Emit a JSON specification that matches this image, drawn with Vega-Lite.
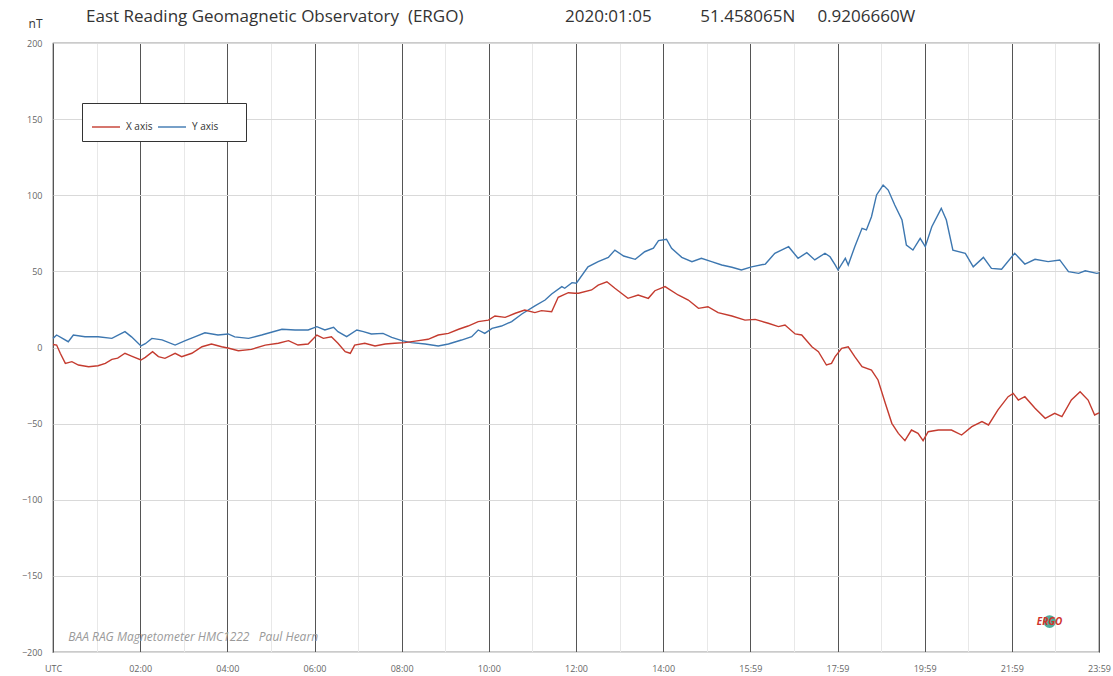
{
  "$schema": "https://vega.github.io/schema/vega-lite/v6.json",
  "width": 1046,
  "height": 609,
  "autosize": {"type": "none"},
  "padding": {"left": 53, "top": 43, "right": 14, "bottom": 24},
  "background": "white",
  "config": {
    "view": {"stroke": "#333333", "strokeWidth": 1.2},
    "font": "Open Sans"
  },
  "title": {
    "text": "East Reading Geomagnetic Observatory\u00a0\u00a0(ERGO)\u00a0\u00a0\u00a0\u00a0\u00a0\u00a0\u00a0\u00a0\u00a0\u00a0\u00a0\u00a0\u00a0\u00a0\u00a0\u00a0\u00a0\u00a0\u00a0\u00a0\u00a0\u00a0\u00a02020:01:05\u00a0\u00a0\u00a0\u00a0\u00a0\u00a0\u00a0\u00a0\u00a0\u00a0\u00a051.458065N\u00a0\u00a0\u00a0\u00a0\u00a00.9206660W",
    "anchor": "start",
    "frame": "group",
    "dx": 33,
    "offset": -9,
    "fontSize": 17,
    "fontWeight": "normal",
    "font": "Open Sans",
    "color": "#333333"
  },
  "datasets": {
    "mag": [
      {"m":0,"v":6,"s":"Y axis"},{"m":5,"v":8.2,"s":"Y axis"},{"m":21,"v":3.8,"s":"Y axis"},{"m":28,"v":8.2,"s":"Y axis"},{"m":44,"v":7.1,"s":"Y axis"},{"m":62,"v":7.1,"s":"Y axis"},{"m":81,"v":6,"s":"Y axis"},{"m":99,"v":10.4,"s":"Y axis"},{"m":108,"v":7,"s":"Y axis"},{"m":121,"v":1,"s":"Y axis"},{"m":127,"v":2.5,"s":"Y axis"},{"m":136,"v":6,"s":"Y axis"},{"m":150,"v":5,"s":"Y axis"},{"m":168,"v":1.6,"s":"Y axis"},{"m":182,"v":4.5,"s":"Y axis"},{"m":195,"v":7,"s":"Y axis"},{"m":209,"v":9.7,"s":"Y axis"},{"m":227,"v":8.2,"s":"Y axis"},{"m":241,"v":8.9,"s":"Y axis"},{"m":250,"v":7,"s":"Y axis"},{"m":269,"v":6,"s":"Y axis"},{"m":287,"v":8.2,"s":"Y axis"},{"m":315,"v":12,"s":"Y axis"},{"m":333,"v":11.5,"s":"Y axis"},{"m":351,"v":11.5,"s":"Y axis"},{"m":363,"v":13.7,"s":"Y axis"},{"m":374,"v":11.5,"s":"Y axis"},{"m":386,"v":13.3,"s":"Y axis"},{"m":392,"v":10.4,"s":"Y axis"},{"m":404,"v":7.1,"s":"Y axis"},{"m":418,"v":11.5,"s":"Y axis"},{"m":427,"v":10.4,"s":"Y axis"},{"m":438,"v":8.9,"s":"Y axis"},{"m":454,"v":9.3,"s":"Y axis"},{"m":466,"v":6.7,"s":"Y axis"},{"m":480,"v":4.5,"s":"Y axis"},{"m":493,"v":3.2,"s":"Y axis"},{"m":512,"v":2.3,"s":"Y axis"},{"m":530,"v":1,"s":"Y axis"},{"m":544,"v":2.3,"s":"Y axis"},{"m":562,"v":4.9,"s":"Y axis"},{"m":576,"v":7.1,"s":"Y axis"},{"m":585,"v":11.5,"s":"Y axis"},{"m":594,"v":9.3,"s":"Y axis"},{"m":604,"v":12.6,"s":"Y axis"},{"m":617,"v":14.1,"s":"Y axis"},{"m":631,"v":17,"s":"Y axis"},{"m":645,"v":22,"s":"Y axis"},{"m":663,"v":27.3,"s":"Y axis"},{"m":677,"v":31.2,"s":"Y axis"},{"m":686,"v":35.1,"s":"Y axis"},{"m":700,"v":40,"s":"Y axis"},{"m":704,"v":38.9,"s":"Y axis"},{"m":714,"v":42.6,"s":"Y axis"},{"m":720,"v":42.2,"s":"Y axis"},{"m":736,"v":53,"s":"Y axis"},{"m":750,"v":56.4,"s":"Y axis"},{"m":764,"v":59.2,"s":"Y axis"},{"m":773,"v":64,"s":"Y axis"},{"m":785,"v":60.1,"s":"Y axis"},{"m":801,"v":57.9,"s":"Y axis"},{"m":814,"v":62.9,"s":"Y axis"},{"m":826,"v":65.2,"s":"Y axis"},{"m":833,"v":70.2,"s":"Y axis"},{"m":844,"v":71.1,"s":"Y axis"},{"m":851,"v":65.2,"s":"Y axis"},{"m":865,"v":59.2,"s":"Y axis"},{"m":879,"v":56.4,"s":"Y axis"},{"m":892,"v":58.6,"s":"Y axis"},{"m":906,"v":56.4,"s":"Y axis"},{"m":920,"v":54.2,"s":"Y axis"},{"m":934,"v":52.7,"s":"Y axis"},{"m":947,"v":50.9,"s":"Y axis"},{"m":961,"v":53,"s":"Y axis"},{"m":980,"v":54.8,"s":"Y axis"},{"m":993,"v":61.9,"s":"Y axis"},{"m":1012,"v":66.2,"s":"Y axis"},{"m":1025,"v":58.6,"s":"Y axis"},{"m":1037,"v":62.3,"s":"Y axis"},{"m":1048,"v":57.5,"s":"Y axis"},{"m":1062,"v":61.9,"s":"Y axis"},{"m":1069,"v":59.6,"s":"Y axis"},{"m":1076,"v":54.2,"s":"Y axis"},{"m":1080,"v":50.9,"s":"Y axis"},{"m":1090,"v":58.6,"s":"Y axis"},{"m":1094,"v":54.2,"s":"Y axis"},{"m":1103,"v":66.2,"s":"Y axis"},{"m":1113,"v":78.3,"s":"Y axis"},{"m":1119,"v":77.2,"s":"Y axis"},{"m":1126,"v":85.9,"s":"Y axis"},{"m":1133,"v":100.2,"s":"Y axis"},{"m":1142,"v":106.7,"s":"Y axis"},{"m":1149,"v":103.4,"s":"Y axis"},{"m":1158,"v":93.6,"s":"Y axis"},{"m":1168,"v":83.7,"s":"Y axis"},{"m":1174,"v":67.3,"s":"Y axis"},{"m":1183,"v":64,"s":"Y axis"},{"m":1193,"v":71.7,"s":"Y axis"},{"m":1200,"v":66.2,"s":"Y axis"},{"m":1209,"v":79.3,"s":"Y axis"},{"m":1222,"v":91.4,"s":"Y axis"},{"m":1229,"v":83.7,"s":"Y axis"},{"m":1238,"v":64,"s":"Y axis"},{"m":1255,"v":61.9,"s":"Y axis"},{"m":1266,"v":53,"s":"Y axis"},{"m":1280,"v":59.2,"s":"Y axis"},{"m":1291,"v":52,"s":"Y axis"},{"m":1305,"v":51.4,"s":"Y axis"},{"m":1323,"v":61.9,"s":"Y axis"},{"m":1337,"v":54.8,"s":"Y axis"},{"m":1351,"v":57.9,"s":"Y axis"},{"m":1369,"v":56.4,"s":"Y axis"},{"m":1385,"v":57.5,"s":"Y axis"},{"m":1397,"v":49.8,"s":"Y axis"},{"m":1411,"v":48.7,"s":"Y axis"},{"m":1420,"v":50.4,"s":"Y axis"},{"m":1436,"v":48.7,"s":"Y axis"},{"m":1439,"v":49,"s":"Y axis"},
      {"m":0,"v":2,"s":"X axis"},{"m":5,"v":1.6,"s":"X axis"},{"m":10,"v":-3.8,"s":"X axis"},{"m":17,"v":-10.4,"s":"X axis"},{"m":26,"v":-9.3,"s":"X axis"},{"m":35,"v":-11.5,"s":"X axis"},{"m":49,"v":-12.6,"s":"X axis"},{"m":62,"v":-12,"s":"X axis"},{"m":72,"v":-10.4,"s":"X axis"},{"m":81,"v":-7.8,"s":"X axis"},{"m":89,"v":-7,"s":"X axis"},{"m":99,"v":-3.8,"s":"X axis"},{"m":108,"v":-5.6,"s":"X axis"},{"m":121,"v":-8.2,"s":"X axis"},{"m":127,"v":-6.5,"s":"X axis"},{"m":137,"v":-2.7,"s":"X axis"},{"m":145,"v":-6,"s":"X axis"},{"m":154,"v":-7.1,"s":"X axis"},{"m":168,"v":-3.8,"s":"X axis"},{"m":177,"v":-6,"s":"X axis"},{"m":191,"v":-3.8,"s":"X axis"},{"m":205,"v":0.5,"s":"X axis"},{"m":218,"v":2.3,"s":"X axis"},{"m":232,"v":0.5,"s":"X axis"},{"m":242,"v":-0.5,"s":"X axis"},{"m":255,"v":-2.1,"s":"X axis"},{"m":273,"v":-1.2,"s":"X axis"},{"m":292,"v":1.6,"s":"X axis"},{"m":310,"v":2.8,"s":"X axis"},{"m":324,"v":4.5,"s":"X axis"},{"m":337,"v":1.6,"s":"X axis"},{"m":351,"v":2.3,"s":"X axis"},{"m":363,"v":8.2,"s":"X axis"},{"m":372,"v":6,"s":"X axis"},{"m":383,"v":7.1,"s":"X axis"},{"m":392,"v":2.8,"s":"X axis"},{"m":402,"v":-2.7,"s":"X axis"},{"m":409,"v":-3.8,"s":"X axis"},{"m":415,"v":1.6,"s":"X axis"},{"m":429,"v":2.8,"s":"X axis"},{"m":443,"v":1,"s":"X axis"},{"m":457,"v":2.3,"s":"X axis"},{"m":470,"v":2.8,"s":"X axis"},{"m":484,"v":3.2,"s":"X axis"},{"m":503,"v":4.5,"s":"X axis"},{"m":516,"v":5.4,"s":"X axis"},{"m":530,"v":8.2,"s":"X axis"},{"m":544,"v":9.3,"s":"X axis"},{"m":558,"v":12,"s":"X axis"},{"m":571,"v":14.1,"s":"X axis"},{"m":585,"v":17,"s":"X axis"},{"m":599,"v":18,"s":"X axis"},{"m":608,"v":20.7,"s":"X axis"},{"m":622,"v":19.8,"s":"X axis"},{"m":636,"v":22.5,"s":"X axis"},{"m":649,"v":24.6,"s":"X axis"},{"m":663,"v":22.9,"s":"X axis"},{"m":672,"v":24.2,"s":"X axis"},{"m":686,"v":23.5,"s":"X axis"},{"m":695,"v":33,"s":"X axis"},{"m":709,"v":36,"s":"X axis"},{"m":718,"v":35.6,"s":"X axis"},{"m":723,"v":35.6,"s":"X axis"},{"m":741,"v":37.8,"s":"X axis"},{"m":750,"v":41,"s":"X axis"},{"m":762,"v":43.2,"s":"X axis"},{"m":773,"v":38.9,"s":"X axis"},{"m":791,"v":32.3,"s":"X axis"},{"m":805,"v":34.5,"s":"X axis"},{"m":819,"v":32.3,"s":"X axis"},{"m":828,"v":37.3,"s":"X axis"},{"m":842,"v":40,"s":"X axis"},{"m":860,"v":34.5,"s":"X axis"},{"m":874,"v":31.2,"s":"X axis"},{"m":888,"v":25.7,"s":"X axis"},{"m":901,"v":26.8,"s":"X axis"},{"m":915,"v":22.9,"s":"X axis"},{"m":934,"v":20.7,"s":"X axis"},{"m":952,"v":18,"s":"X axis"},{"m":966,"v":18.5,"s":"X axis"},{"m":984,"v":15.9,"s":"X axis"},{"m":998,"v":13.7,"s":"X axis"},{"m":1007,"v":14.8,"s":"X axis"},{"m":1021,"v":8.9,"s":"X axis"},{"m":1030,"v":8.2,"s":"X axis"},{"m":1044,"v":0.5,"s":"X axis"},{"m":1053,"v":-2.7,"s":"X axis"},{"m":1064,"v":-11.5,"s":"X axis"},{"m":1071,"v":-10.4,"s":"X axis"},{"m":1076,"v":-6,"s":"X axis"},{"m":1085,"v":-0.5,"s":"X axis"},{"m":1094,"v":0.5,"s":"X axis"},{"m":1103,"v":-6,"s":"X axis"},{"m":1113,"v":-12.6,"s":"X axis"},{"m":1126,"v":-14.8,"s":"X axis"},{"m":1135,"v":-21.3,"s":"X axis"},{"m":1145,"v":-36.6,"s":"X axis"},{"m":1154,"v":-49.8,"s":"X axis"},{"m":1163,"v":-56.4,"s":"X axis"},{"m":1172,"v":-61.2,"s":"X axis"},{"m":1181,"v":-54.2,"s":"X axis"},{"m":1190,"v":-56.4,"s":"X axis"},{"m":1197,"v":-61.2,"s":"X axis"},{"m":1204,"v":-55.3,"s":"X axis"},{"m":1218,"v":-54.2,"s":"X axis"},{"m":1236,"v":-54.2,"s":"X axis"},{"m":1250,"v":-57.5,"s":"X axis"},{"m":1264,"v":-52,"s":"X axis"},{"m":1278,"v":-48.7,"s":"X axis"},{"m":1287,"v":-50.9,"s":"X axis"},{"m":1300,"v":-41,"s":"X axis"},{"m":1314,"v":-32.3,"s":"X axis"},{"m":1321,"v":-30.1,"s":"X axis"},{"m":1328,"v":-34.5,"s":"X axis"},{"m":1337,"v":-32.3,"s":"X axis"},{"m":1351,"v":-39.9,"s":"X axis"},{"m":1365,"v":-46.5,"s":"X axis"},{"m":1378,"v":-43.2,"s":"X axis"},{"m":1388,"v":-45.4,"s":"X axis"},{"m":1401,"v":-34.5,"s":"X axis"},{"m":1413,"v":-29,"s":"X axis"},{"m":1424,"v":-34.5,"s":"X axis"},{"m":1433,"v":-44.3,"s":"X axis"},{"m":1439,"v":-43,"s":"X axis"}
    ],
    "notes": [
      {"m": 21, "v": -190, "label": "BAA RAG Magnetometer HMC1222\u00a0\u00a0\u00a0Paul Hearn"}
    ],
    "logo": [
      {"m": 1371, "v": -180, "label": "ERGO"}
    ]
  },
  "resolve": {"axis": {"x": "independent"}},
  "layer": [
    {
      "data": {"name": "notes"},
      "mark": {"type": "text", "align": "left", "baseline": "middle", "fontStyle": "italic", "fontSize": 12, "color": "#9a9a9a", "font": "Open Sans"},
      "encoding": {
        "x": {"field": "m", "type": "quantitative", "scale": {"domain": [0, 1439], "nice": false, "zero": false},
          "axis": {"orient": "top", "values": [59.958, 179.875, 299.792, 419.708, 539.625, 659.542, 779.458, 899.375, 1019.292, 1139.208, 1259.125, 1379.042], "grid": true, "gridColor": "#e8e8e8", "gridWidth": 1, "labels": false, "ticks": false, "domain": false, "title": null}},
        "y": {"field": "v", "type": "quantitative"},
        "text": {"field": "label"}
      }
    },
    {
      "data": {"name": "mag"},
      "mark": {"type": "line", "strokeWidth": 1.4, "interpolate": "linear"},
      "encoding": {
        "x": {"field": "m", "type": "quantitative", "scale": {"domain": [0, 1439], "nice": false, "zero": false},
          "axis": {"orient": "bottom", "values": [0, 119.917, 239.833, 359.75, 479.667, 599.583, 719.5, 839.417, 959.333, 1079.25, 1199.167, 1319.083, 1439],
            "labelExpr": "['UTC','02:00','04:00','06:00','08:00','10:00','12:00','14:00','15:59','17:59','19:59','21:59','23:59'][round(datum.value/119.9167)]",
            "grid": true, "gridColor": "#555555", "gridWidth": 1, "ticks": false, "domain": false, "labelPadding": 12, "labelFontSize": 9, "labelColor": "#666666", "labelFlush": false, "title": null, "labelFont": "Open Sans"}},
        "y": {"field": "v", "type": "quantitative", "scale": {"domain": [-200, 200], "nice": false, "zero": false},
          "axis": {"values": [-200, -150, -100, -50, 0, 50, 100, 150, 200], "grid": true, "gridColor": "#d9d9d9", "ticks": false, "domain": false, "labelPadding": 11, "labelFontSize": 9, "labelColor": "#666666", "labelFont": "Open Sans",
            "title": "nT", "titleAngle": 0, "titleX": -18, "titleY": -20, "titleAlign": "center", "titleBaseline": "middle", "titleFontSize": 12, "titleFontWeight": "normal", "titleColor": "#333333", "titleFont": "Open Sans"}},
        "color": {"field": "s", "type": "nominal", "scale": {"domain": ["X axis", "Y axis"], "range": ["#c43b2f", "#3d77b0"]},
          "legend": {"orient": "none", "legendX": 29, "legendY": 60, "direction": "horizontal", "symbolType": "stroke", "symbolSize": 784, "symbolStrokeWidth": 1.4, "labelFontSize": 10, "labelColor": "#333333", "labelFont": "Open Sans", "strokeColor": "#333333", "fillColor": "white", "padding": 9, "columnPadding": 2, "labelOffset": 5,
            "title": "\u2800\u2800\u2800", "titleOrient": "right", "titleFontSize": 8, "titleFont": "DejaVu Sans", "titleColor": "white", "titlePadding": 0, "titleLimit": 400}}
      }
    },
    {
      "data": {"name": "logo"},
      "mark": {"type": "point", "shape": "circle", "filled": true, "size": 160, "color": "#2f9e8a", "opacity": 0.85},
      "encoding": {
        "x": {"field": "m", "type": "quantitative", "axis": null},
        "y": {"field": "v", "type": "quantitative"}
      }
    },
    {
      "data": {"name": "logo"},
      "mark": {"type": "text", "fontSize": 10, "fontWeight": "bold", "fontStyle": "italic", "color": "#d0342c", "font": "Open Sans", "baseline": "middle"},
      "encoding": {
        "x": {"field": "m", "type": "quantitative", "axis": null},
        "y": {"field": "v", "type": "quantitative"},
        "text": {"field": "label"}
      }
    }
  ]
}
